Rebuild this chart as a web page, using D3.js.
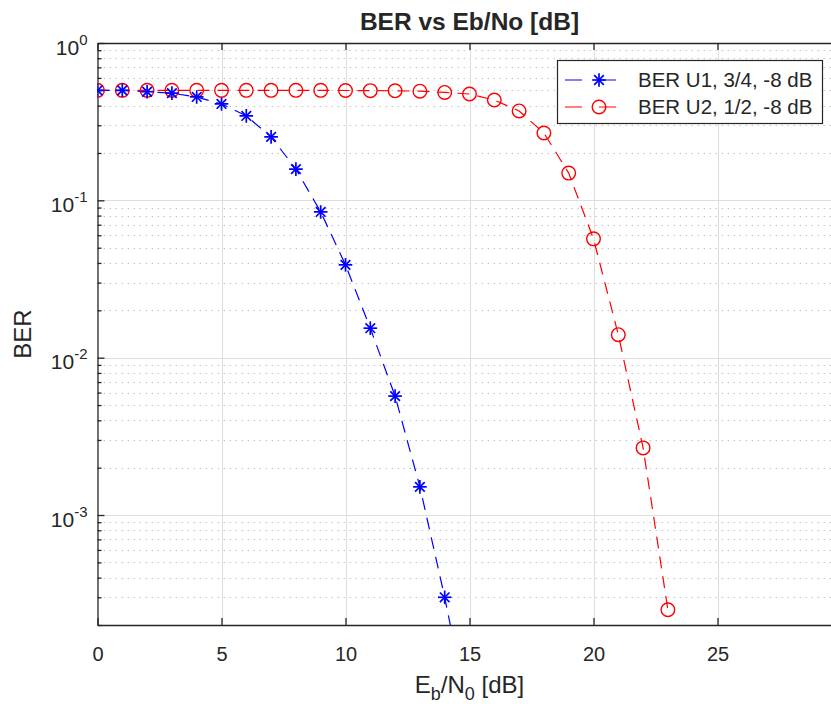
<!DOCTYPE html>
<html><head><meta charset="utf-8">
<script src="https://cdn.jsdelivr.net/npm/d3@7"></script>
<style>
body{margin:0;background:#fff;}
text{font-family:"Liberation Sans",Arial,sans-serif;fill:#262626;}
</style></head>
<body><svg id="chart" width="831" height="704"></svg>
<script>
// ---- data ----
const titleText = "BER vs Eb/No [dB]";
const xTicks = [0, 5, 10, 15, 20, 25];
const yDecades = [1e-3, 1e-2, 1e-1, 1];
const seriesNames = ["BER U1, 3/4, -8 dB", "BER U2, 1/2, -8 dB"];
const ebnoU1 = [0,1,2,3,4,5,6,7,8,9,10,11,12,13,14,15];
const berU1 = [0.5,0.5,0.49,0.48,0.454,0.41,0.344,0.253,0.158,0.0844,0.0389,0.0154,0.0057,0.00151,0.0003,0.00005];
const ebnoU2 = [0,1,2,3,4,5,6,7,8,9,10,11,12,13,14,15,16,17,18,19,20,21,22,23];
const berU2 = [0.5,0.5,0.5,0.5,0.5,0.5,0.5,0.5,0.5,0.5,0.499,0.498,0.497,0.494,0.485,0.474,0.434,0.37,0.268,0.149,0.0569,0.014,0.00267,0.00025];

const W = 831, H = 704;
const m = {left: 97.5, top: 43, right: 841.5, bottom: 625};
const svg = d3.select("#chart");
const x = d3.scaleLinear().domain([0, 30]).range([m.left, m.right]);
const y = d3.scaleLog().domain([2e-4, 1]).range([m.bottom, m.top]);
const axisColor = "#262626";

svg.append("defs").append("clipPath").attr("id","clip")
  .append("rect").attr("x", m.left).attr("y", m.top).attr("width", m.right-m.left).attr("height", m.bottom-m.top);

// minor y values
const minorY = [];
[1e-4,1e-3,1e-2,1e-1].forEach(d => { for (let k=2;k<=9;k++){ const v=k*d; if (v>=2e-4 && v<1) minorY.push(v);} });

const g = svg.append("g");
// minor grid (dotted)
g.selectAll(".mg").data(minorY).join("line")
  .attr("x1", m.left).attr("x2", m.right)
  .attr("y1", d => Math.round(y(d))+0.5).attr("y2", d => Math.round(y(d))+0.5)
  .attr("stroke", "#c4c4c4").attr("stroke-width", 1).attr("stroke-dasharray", "1.5,4.5");
// major grid
g.selectAll(".gy").data(yDecades.filter(d=>d<1)).join("line")
  .attr("x1", m.left).attr("x2", m.right)
  .attr("y1", d => Math.round(y(d))+0.5).attr("y2", d => Math.round(y(d))+0.5)
  .attr("stroke", "#dedede").attr("stroke-width", 1);
g.selectAll(".gx").data(xTicks.filter(d=>d>0)).join("line")
  .attr("y1", m.top).attr("y2", m.bottom)
  .attr("x1", d => Math.round(x(d))+0.5).attr("x2", d => Math.round(x(d))+0.5)
  .attr("stroke", "#dedede").attr("stroke-width", 1);

// axes
const xAxis = d3.axisBottom(x).tickValues(xTicks).tickSizeInner(-7).tickSizeOuter(0).tickPadding(22).tickFormat(d3.format("d"));
const gx = svg.append("g").attr("transform", `translate(0,${m.bottom})`).call(xAxis);
gx.select(".domain").attr("stroke", axisColor).attr("stroke-width", 1.3);
gx.selectAll(".tick line").attr("stroke", axisColor).attr("stroke-width", 1.3);
gx.selectAll(".tick text").attr("font-size", 20).attr("fill", axisColor).attr("font-family", "Liberation Sans, Arial, sans-serif");

const xTop = d3.axisTop(x).tickValues(xTicks).tickSizeInner(-7).tickSizeOuter(0).tickFormat("");
const gxt = svg.append("g").attr("transform", `translate(0,${m.top})`).call(xTop);
gxt.select(".domain").attr("stroke", axisColor).attr("stroke-width", 1.3);
gxt.selectAll(".tick line").attr("stroke", axisColor).attr("stroke-width", 1.3);

const yAxis = d3.axisLeft(y).tickValues(yDecades).tickSizeInner(-7).tickSizeOuter(0).tickPadding(10).tickFormat("");
const gy = svg.append("g").attr("transform", `translate(${m.left},0)`).call(yAxis);
gy.select(".domain").attr("stroke", axisColor).attr("stroke-width", 1.3);
gy.selectAll(".tick line").attr("stroke", axisColor).attr("stroke-width", 1.3);
const yMinorAxis = d3.axisLeft(y).tickValues(minorY).tickSizeInner(-4).tickSizeOuter(0).tickFormat("");
const gym = svg.append("g").attr("transform", `translate(${m.left},0)`).call(yMinorAxis);
gym.select(".domain").remove();
gym.selectAll(".tick line").attr("stroke", axisColor).attr("stroke-width", 1.3);
// y tick labels 10^n
gy.selectAll(".tick").each(function(d){
  const t = d3.select(this).append("text").attr("x", -10).attr("dy", 11)
    .attr("text-anchor", "end").attr("font-size", 21).attr("fill", axisColor)
    .attr("font-family", "Liberation Sans, Arial, sans-serif");
  t.append("tspan").text("10");
  t.append("tspan").attr("dy", -10).attr("font-size", 15).text(String(Math.round(Math.log10(d))));
});

// data lines
const plot = svg.append("g").attr("clip-path", "url(#clip)");
const line = d3.line().x(d => x(d[0])).y(d => y(d[1]));
const u1 = ebnoU1.map((e,i) => [e, berU1[i]]);
const u2 = ebnoU2.map((e,i) => [e, berU2[i]]);
plot.append("path").datum(u2).attr("d", line).attr("fill","none").attr("stroke","#ff0000").attr("stroke-width",1.2).attr("stroke-dasharray","12,8");
plot.append("path").datum(u1).attr("d", line).attr("fill","none").attr("stroke","#0000ff").attr("stroke-width",1.2).attr("stroke-dasharray","12,8");

function star(sel, r){
  const a = r*0.7071;
  const segs = [[-r,0,r,0],[0,-r,0,r],[-a,-a,a,a],[-a,a,a,-a]];
  segs.forEach(s => sel.append("line").attr("x1",s[0]).attr("y1",s[1]).attr("x2",s[2]).attr("y2",s[3]));
}
plot.selectAll(".c2").data(u2).join("circle")
  .attr("cx", d => x(d[0])).attr("cy", d => y(d[1])).attr("r", 6.8)
  .attr("fill","none").attr("stroke","#ff0000").attr("stroke-width",1.4);
plot.selectAll(".s1").data(u1).join("g")
  .attr("transform", d => `translate(${x(d[0])},${y(d[1])})`)
  .attr("stroke","#0000ff").attr("stroke-width",1.7)
  .each(function(){ star(d3.select(this), 6.8); });

// legend
const lg = svg.append("g");
lg.append("rect").attr("x", 557.5).attr("y", 60.5).attr("width", 265).attr("height", 63)
  .attr("fill","#fff").attr("stroke", axisColor).attr("stroke-width", 1.2);
const rows = [
  {name: seriesNames[0], color: "#0000ff", type: "star", cy: 80},
  {name: seriesNames[1], color: "#ff0000", type: "circle", cy: 107}
];
rows.forEach(r => {
  lg.append("line").attr("x1",565).attr("x2",633).attr("y1",r.cy).attr("y2",r.cy)
    .attr("stroke", r.color).attr("stroke-width",1.2).attr("stroke-dasharray","17,17");
  if (r.type === "star") {
    const s = lg.append("g").attr("transform",`translate(599,${r.cy})`).attr("stroke",r.color).attr("stroke-width",1.7);
    star(s, 6.8);
  } else {
    lg.append("circle").attr("cx",599).attr("cy",r.cy).attr("r",6.8).attr("fill","none").attr("stroke",r.color).attr("stroke-width",1.4);
  }
  lg.append("text").attr("x",638).attr("y",r.cy+7).attr("font-size",20.5).attr("fill","#000").text(r.name);
});

// title
svg.append("text").attr("x",(m.left+m.right)/2).attr("y",30).attr("text-anchor","middle")
  .attr("font-size",24.5).attr("font-weight","bold").attr("fill","#000").text(titleText);
// x label
const xl = svg.append("text").attr("x",(m.left+m.right)/2).attr("y",693).attr("text-anchor","middle")
  .attr("font-size",24).attr("fill",axisColor);
xl.append("tspan").text("E");
xl.append("tspan").attr("dy",7).attr("font-size",18).text("b");
xl.append("tspan").attr("dy",-7).text("/N");
xl.append("tspan").attr("dy",7).attr("font-size",18).text("0");
xl.append("tspan").attr("dy",-7).text(" [dB]");
// y label
svg.append("text").attr("transform",`translate(31,${(m.top+m.bottom)/2}) rotate(-90)`)
  .attr("text-anchor","middle").attr("font-size",24).attr("fill",axisColor).text("BER");
</script></body></html>
